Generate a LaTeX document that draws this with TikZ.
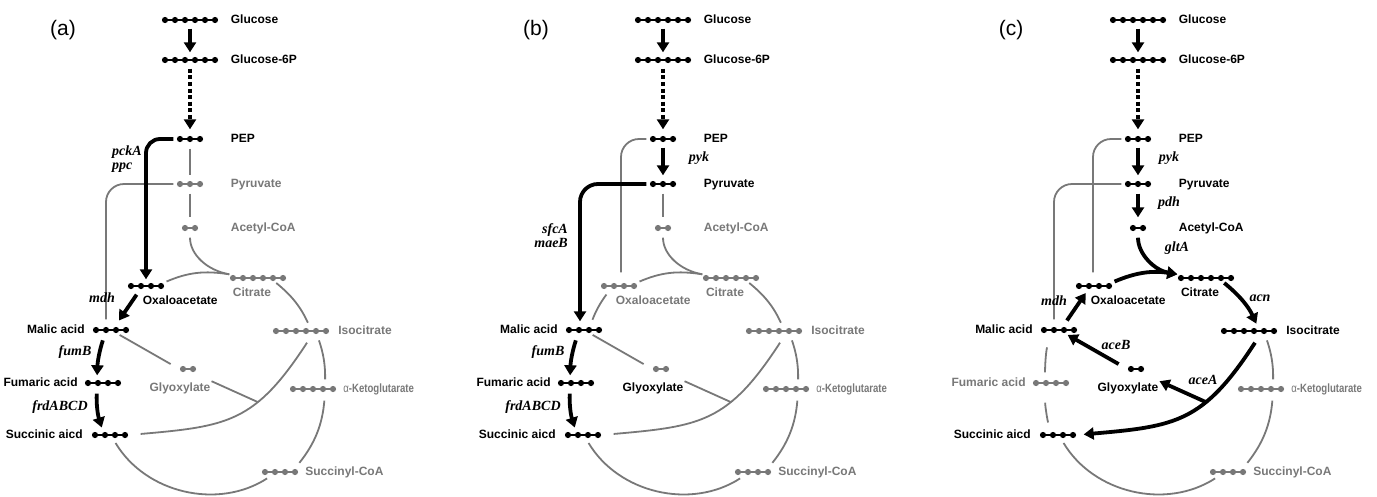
\documentclass[tikz,border=0pt]{standalone}
\usepackage{fontspec}
\setmainfont{Liberation Serif}
\setsansfont{Liberation Sans}
\usepackage{graphicx}
\usepackage{tikz}
\usetikzlibrary{arrows.meta, positioning}
\definecolor{mgray}{RGB}{120,120,120}

% all chains and names of one panel, #1 = name prefix
\newcommand{\metabolites}[1]{%
  \node[mol=6] (#1glc) at (190,-20) {};
  \node[met, right=11pt of #1glc] (#1glct) {Glucose};
  \node[mol=6] (#1g6p) at (190,-60) {};
  \node[met, right=11pt of #1g6p] (#1g6pt) {Glucose-6P};
  \node[mol=3, kPep] (#1pep) at (190,-139) {};
  \node[met, kPep, right=26pt of #1pep] (#1pept) {PEP};
  \node[mol=3, kPyr] (#1pyr) at (190,-184) {};
  \node[met, kPyr, right=26pt of #1pyr] (#1pyrt) {Pyruvate};
  \node[mol=2, kAcc] (#1acc) at (190,-228) {};
  \node[met, kAcc, right=31pt of #1acc] (#1acct) {Acetyl-CoA};
  \node[mol=6, kCit] (#1cit) at (258,-278) {};
  \node[met, kCit, below=5pt of #1cit, xshift=-6pt] (#1citt) {Citrate};
  \node[mol=4, kOaa] (#1oaa) at (146,-286) {};
  \node[met, kOaa, below right=4.5pt and -23pt of #1oaa] (#1oaat) {Oxaloacetate};
  \node[mol=4, kMal] (#1mal) at (111,-330) {};
  \node[met, kMal, left=6.5pt of #1mal] (#1malt) {Malic acid};
  \node[mol=4, kFum] (#1fum) at (103,-383) {};
  \node[met, kFum, left=5.5pt of #1fum] (#1fumt) {Fumaric acid};
  \node[mol=4, kSuc] (#1suc) at (110,-435) {};
  \node[met, kSuc, left=7.5pt of #1suc] (#1suct) {Succinic aicd};
  \node[mol=6, kIcit] (#1icit) at (301,-331) {};
  \node[met, kIcit, right=7.5pt of #1icit] (#1icitt) {Isocitrate};
  \node[mol=5, kAkg] (#1akg) at (313,-389) {};
  \node[met, kAkg, right=5.5pt of #1akg] (#1akgt) {\scalebox{0.8}[1]{{\mdseries α}-Ketoglutarate}};
  \node[mol=4, kScoa] (#1scoa) at (280,-472) {};
  \node[met, kScoa, right=5.5pt of #1scoa] (#1scoat) {Succinyl-CoA};
  \node[mol=2, kGlx] (#1glx) at (188,-369) {};
  \node[met, kGlxt, below=8.5pt of #1glx, xshift=-8pt] (#1glxt) {Glyoxylate};
}

\begin{document}
\begin{tikzpicture}[
  x=1pt, y=1pt,
  mol/.style={inner sep=0pt, minimum height=7pt, minimum width={10*(#1-1)+7},
    path picture={
      \draw[line width=1.7pt] ([xshift=3.5pt]path picture bounding box.west)
        -- ([xshift=-3.5pt]path picture bounding box.east);
      \foreach \k in {1,...,#1}
        \fill ([xshift={3.5+10*(\k-1)}]path picture bounding box.west) circle[radius=3.1pt];
    }},
  met/.style={font=\sffamily\bfseries\fontsize{12}{14}\selectfont,
    inner sep=1pt, text height=9pt, text depth=2.5pt},
  gene/.style={font=\rmfamily\bfseries\itshape\fontsize{14}{14}\selectfont, inner sep=1pt},
  paneltag/.style={font=\sffamily\fontsize{21}{24}\selectfont},
  blk/.style={black},
  gry/.style={mgray},
  flux/.style={line width=3.8pt, -{Triangle[length=10pt, width=12pt]}},
  gline/.style={line width=1.8pt, mgray}
]
\useasboundingbox (0,0) rectangle (1377,-496);

% ---------------- (a) ----------------
\begin{scope}[kPep/.style=blk, kPyr/.style=gry, kAcc/.style=gry, kCit/.style=gry,
  kOaa/.style=blk, kMal/.style=blk, kFum/.style=blk, kSuc/.style=blk,
  kIcit/.style=gry, kAkg/.style=gry, kScoa/.style=gry, kGlx/.style=gry, kGlxt/.style=gry]
\node[paneltag] (a-tag) at (63,-30) {(a)};
\metabolites{a-}
\draw[flux, shorten <=5pt, shorten >=4pt] (a-glc) -- (a-g6p);
\draw[flux, dash pattern=on 4pt off 2.6pt, shorten <=5pt, shorten >=6pt] (a-g6p) -- (a-pep);
\draw[gline, shorten <=6pt, shorten >=5pt] (a-pep) -- (a-pyr);
\draw[gline, shorten <=6pt, shorten >=7pt] (a-pyr) -- (a-acc);
\draw[gline, shorten <=6pt] (a-acc.south) to[out=-90, in=170] (a-cit.north west);
\draw[gline, rounded corners=18pt, shorten <=3pt, shorten >=7pt] (a-pyr.west) -| ([xshift=-5pt]a-mal.north);
\draw[flux, rounded corners=14pt, shorten <=3pt, shorten >=3pt] (a-pep.west) -| (a-oaa.north);
\node[gene, align=left] (a-pcka) at (127,-159) {pckA\\ppc};
\draw[flux, shorten <=6pt, shorten >=7pt] ([xshift=-6pt]a-oaa.south) -- ([xshift=4pt]a-mal.north);
\node[gene] (a-mdh) at (102,-298) {mdh};
\draw[flux, shorten <=7pt, shorten >=4pt] ([xshift=-6pt]a-mal.south) to[bend right=8] ([xshift=-6pt]a-fum.north);
\node[gene] (a-fumb) at (75,-352) {fumB};
\draw[flux, shorten <=7pt, shorten >=4pt] ([xshift=-6pt]a-fum.south) to[bend right=10] ([xshift=-7pt]a-suc.north);
\node[gene] (a-frd) at (60,-407) {frdABCD};
% cycle
\draw[gline, shorten <=2pt] (a-oaa.north east) to[bend left=16] (a-cit.north west);
\draw[gline, shorten <=2pt, shorten >=5pt] ([xshift=-12pt]a-cit.south east) to[bend left=13] ([xshift=9pt]a-icit.north);
\draw[gline, shorten <=6pt, shorten >=6pt] ([xshift=16pt]a-icit.south) to[bend left=10] ([xshift=12pt]a-akg.north);
\draw[gline, shorten <=8pt, shorten >=7pt] ([xshift=12pt]a-akg.south) to[bend left=17] ([xshift=15pt]a-scoa.north);
\draw[gline, shorten <=5pt, shorten >=5pt] ([xshift=10pt]a-scoa.south west) to[bend left=46] ([xshift=3pt]a-suc.south);
% glyoxylate shunt
\draw[gline, shorten <=10pt, shorten >=10pt] (a-mal.center) -- (a-glx.west);
\draw[gline, shorten >=12pt] ([shift={(6pt,-8pt)}]a-icit.south)
  to[out=-123, in=5, out distance=95pt, in distance=100pt] coordinate[pos=0.35] (a-jn) (a-suc.east);
\draw[gline] (a-glxt.north east) -- (a-jn);
\end{scope}

% ---------------- (b) ----------------
\begin{scope}[xshift=473pt, kPep/.style=blk, kPyr/.style=blk, kAcc/.style=gry, kCit/.style=gry,
  kOaa/.style=gry, kMal/.style=blk, kFum/.style=blk, kSuc/.style=blk,
  kIcit/.style=gry, kAkg/.style=gry, kScoa/.style=gry, kGlx/.style=gry, kGlxt/.style=blk]
\node[paneltag] (b-tag) at (63,-30) {(b)};
\metabolites{b-}
\draw[flux, shorten <=5pt, shorten >=4pt] (b-glc) -- (b-g6p);
\draw[flux, dash pattern=on 4pt off 2.6pt, shorten <=5pt, shorten >=6pt] (b-g6p) -- (b-pep);
\draw[gline, rounded corners=18pt, shorten <=3pt, shorten >=10pt] (b-pep.west) -| ([xshift=2pt]b-oaa.north);
\draw[flux, shorten <=5pt, shorten >=5pt] (b-pep) -- (b-pyr);
\node[gene] (b-pyk) at (226,-158) {pyk};
\draw[gline, shorten <=6pt, shorten >=7pt] (b-pyr) -- (b-acc);
\draw[gline, shorten <=6pt] (b-acc.south) to[out=-90, in=170] (b-cit.north west);
\draw[flux, rounded corners=18pt, shorten <=3pt, shorten >=5pt] (b-pyr.west) -| ([xshift=-4pt]b-mal.north);
\node[gene, align=right, anchor=east] (b-sfca) at (96,-236) {sfcA\\maeB};
\draw[gline, shorten <=6pt, shorten >=7pt] ([xshift=-9pt]b-oaa.south) to[bend right=8] ([xshift=6pt]b-mal.north);
\draw[flux, shorten <=7pt, shorten >=4pt] ([xshift=-6pt]b-mal.south) to[bend right=8] ([xshift=-6pt]b-fum.north);
\node[gene] (b-fumb) at (75,-352) {fumB};
\draw[flux, shorten <=7pt, shorten >=4pt] ([xshift=-6pt]b-fum.south) to[bend right=10] ([xshift=-7pt]b-suc.north);
\node[gene] (b-frd) at (60,-407) {frdABCD};
% cycle
\draw[gline, shorten <=2pt] (b-oaa.north east) to[bend left=16] (b-cit.north west);
\draw[gline, shorten <=2pt, shorten >=5pt] ([xshift=-12pt]b-cit.south east) to[bend left=13] ([xshift=9pt]b-icit.north);
\draw[gline, shorten <=6pt, shorten >=6pt] ([xshift=16pt]b-icit.south) to[bend left=10] ([xshift=12pt]b-akg.north);
\draw[gline, shorten <=8pt, shorten >=7pt] ([xshift=12pt]b-akg.south) to[bend left=17] ([xshift=15pt]b-scoa.north);
\draw[gline, shorten <=5pt, shorten >=5pt] ([xshift=10pt]b-scoa.south west) to[bend left=46] ([xshift=3pt]b-suc.south);
% glyoxylate shunt
\draw[gline, shorten <=10pt, shorten >=10pt] (b-mal.center) -- (b-glx.west);
\draw[gline, shorten >=12pt] ([shift={(6pt,-8pt)}]b-icit.south)
  to[out=-123, in=5, out distance=95pt, in distance=100pt] coordinate[pos=0.35] (b-jn) (b-suc.east);
\draw[gline] (b-glxt.north east) -- (b-jn);
\end{scope}

% ---------------- (c) ----------------
\begin{scope}[xshift=948pt, kPep/.style=blk, kPyr/.style=blk, kAcc/.style=blk, kCit/.style=blk,
  kOaa/.style=blk, kMal/.style=blk, kFum/.style=gry, kSuc/.style=blk,
  kIcit/.style=blk, kAkg/.style=gry, kScoa/.style=gry, kGlx/.style=blk, kGlxt/.style=blk]
\node[paneltag] (c-tag) at (63,-30) {(c)};
\metabolites{c-}
\draw[flux, shorten <=5pt, shorten >=4pt] (c-glc) -- (c-g6p);
\draw[flux, dash pattern=on 4pt off 2.6pt, shorten <=5pt, shorten >=6pt] (c-g6p) -- (c-pep);
\draw[gline, rounded corners=18pt, shorten <=3pt, shorten >=10pt] (c-pep.west) -| ([xshift=-1pt]c-oaa.north);
\draw[gline, rounded corners=18pt, shorten <=3pt, shorten >=7pt] (c-pyr.west) -| ([xshift=-5pt]c-mal.north);
\draw[flux, shorten <=5pt, shorten >=5pt] (c-pep) -- (c-pyr);
\node[gene] (c-pyk) at (221,-158) {pyk};
\draw[flux, shorten <=6pt, shorten >=7pt] (c-pyr) -- (c-acc);
\node[gene] (c-pdh) at (221,-203) {pdh};
\draw[flux, shorten <=6pt] (c-acc.south) to[out=-90, in=170] (c-cit.north west);
\node[gene] (c-glta) at (229,-248) {gltA};
\draw[flux, shorten <=7pt, shorten >=4pt] ([xshift=4pt]c-mal.north) -- ([xshift=-6pt]c-oaa.south);
\node[gene] (c-mdh) at (106,-301) {mdh};
% cycle
\draw[flux, shorten <=2pt] (c-oaa.north east) to[bend left=16] (c-cit.north west);
\draw[flux, shorten <=2pt, shorten >=4pt] ([xshift=-12pt]c-cit.south east) to[bend left=13] ([xshift=9pt]c-icit.north);
\node[gene] (c-acn) at (312,-298) {acn};
\draw[gline, shorten <=6pt, shorten >=6pt] ([xshift=16pt]c-icit.south) to[bend left=10] ([xshift=12pt]c-akg.north);
\draw[gline, shorten <=8pt, shorten >=7pt] ([xshift=12pt]c-akg.south) to[bend left=17] ([xshift=15pt]c-scoa.north);
\draw[gline, shorten <=5pt, shorten >=5pt] ([xshift=10pt]c-scoa.south west) to[bend left=46] ([xshift=3pt]c-suc.south);
\draw[gline, shorten <=14pt, shorten >=7pt] ([xshift=-9pt]c-mal.south) to[bend right=6] ([xshift=-6pt]c-fum.north);
\draw[gline, shorten <=16pt, shorten >=9pt] ([xshift=-6pt]c-fum.south) to[bend right=6] ([xshift=-8pt]c-suc.north);
% glyoxylate shunt
\draw[flux, shorten >=7pt] ([shift={(6pt,-8pt)}]c-icit.south)
  to[out=-123, in=5, out distance=95pt, in distance=100pt] coordinate[pos=0.35] (c-jn) (c-suc.east);
\draw[flux] (c-jn) -- (c-glxt.north east);
\node[gene] (c-acea) at (255,-380) {aceA};
\draw[flux, shorten <=10pt, shorten >=10pt] (c-glx.west) -- (c-mal.center);
\node[gene] (c-aceb) at (168,-345) {aceB};
\end{scope}
\end{tikzpicture}
\end{document}
